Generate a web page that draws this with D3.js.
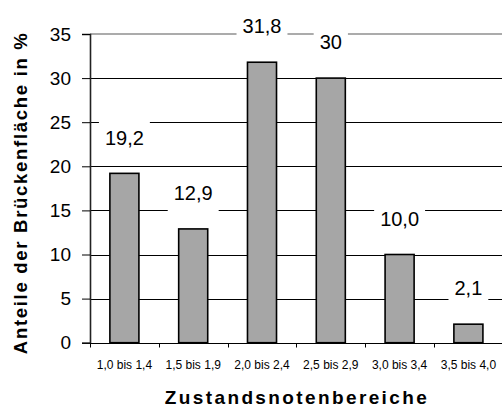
<!DOCTYPE html>
<html>
<head>
<meta charset="utf-8">
<script src="https://cdn.jsdelivr.net/npm/d3@7"></script>
<style>
  html, body { margin: 0; padding: 0; background: #fff; }
  svg { display: block; font-family: "Liberation Sans", Arial, sans-serif; }
</style>
</head>
<body>
<svg id="chart" width="502" height="408"></svg>
<script>
const categories = ["1,0 bis 1,4", "1,5 bis 1,9", "2,0 bis 2,4", "2,5 bis 2,9", "3,0 bis 3,4", "3,5 bis 4,0"];
const values = [19.2, 12.9, 31.8, 30, 10.0, 2.1];
const valueLabels = ["19,2", "12,9", "31,8", "30", "10,0", "2,1"];
const yTicks = [0, 5, 10, 15, 20, 25, 30, 35];
const yTitle = "Anteile der Brückenfläche in %";
const xTitle = "Zustandsnotenbereiche";

(function () {
const svg = d3.select("#chart");
const mLeft = 90, mRight = 502.8, mTop = 34, mBottom = 342.7;

const y = d3.scaleLinear().domain([0, 35]).range([mBottom, mTop]);
const x = d3.scaleBand().domain(categories).range([mLeft, mRight])
  .paddingInner(0.578).paddingOuter(0.289);

const crisp = v => Math.round(v) + 0.5;

// gridlines
svg.append("g").selectAll("line")
  .data(yTicks.filter(t => t > 0))
  .join("line")
  .attr("x1", mLeft).attr("x2", 502)
  .attr("y1", d => d === 35 ? y(d) : crisp(y(d)))
  .attr("y2", d => d === 35 ? y(d) : crisp(y(d)))
  .attr("stroke", d => d === 35 ? "#8f8f8f" : "#000")
  .attr("stroke-width", d => d === 35 ? 1.6 : 1);

// bars
svg.append("g").selectAll("rect")
  .data(values)
  .join("rect")
  .attr("x", (d, i) => x(categories[i]))
  .attr("width", x.bandwidth())
  .attr("y", d => y(d))
  .attr("height", d => y(0) - y(d))
  .attr("fill", "#a6a6a6")
  .attr("stroke", "#000")
  .attr("stroke-width", 1.6);

// value labels with white boxes
const lg = svg.append("g");
values.forEach((v, i) => {
  const cx = x(categories[i]) + x.bandwidth() / 2;
  const cy = y(v) - 36;
  const box = lg.append("rect").attr("fill", "#fff");
  const t = lg.append("text")
    .attr("x", cx).attr("y", cy + 7.2)
    .attr("text-anchor", "middle")
    .attr("font-size", 20)
    .attr("fill", "#000")
    .text(valueLabels[i]);
  const w = t.node().getComputedTextLength();
  box.attr("x", cx - w / 2 - 6).attr("width", w + 12)
    .attr("y", cy - 21).attr("height", 45);
});

// y axis
const yAxis = svg.append("g")
  .attr("transform", `translate(${mLeft},0)`)
  .call(d3.axisLeft(y).tickValues(yTicks).tickSize(8).tickPadding(11).tickFormat(d => d));
yAxis.select(".domain").attr("stroke", "#222").attr("stroke-width", 1.6);
yAxis.selectAll(".tick line").attr("stroke", "#000");
yAxis.selectAll(".tick text").attr("font-size", 19).attr("fill", "#000")
  .attr("font-family", "Liberation Sans, Arial, sans-serif");

// x axis
const xAxis = svg.append("g")
  .attr("transform", `translate(0,${crisp(mBottom) - 0.5})`)
  .call(d3.axisBottom(x).tickSize(0).tickPadding(17));
xAxis.select(".domain").remove();
xAxis.selectAll(".tick text").attr("font-size", 12).attr("fill", "#000")
  .attr("font-family", "Liberation Sans, Arial, sans-serif");
svg.append("line")
  .attr("x1", mLeft).attr("x2", 502)
  .attr("y1", crisp(mBottom)).attr("y2", crisp(mBottom))
  .attr("stroke", "#000").attr("stroke-width", 1.2);
const bounds = categories.map(c => x(c) + x.bandwidth() / 2 - x.step() / 2).concat([mRight]);
svg.append("g").selectAll("line")
  .data(bounds)
  .join("line")
  .attr("x1", d => crisp(d)).attr("x2", d => crisp(d))
  .attr("y1", crisp(mBottom)).attr("y2", crisp(mBottom) + 4)
  .attr("stroke", "#000");

// titles
svg.append("text")
  .attr("transform", `translate(27.3,193.7) rotate(-90)`)
  .attr("text-anchor", "middle")
  .attr("font-size", 18.5).attr("font-weight", "bold")
  .attr("textLength", 321).attr("lengthAdjust", "spacing")
  .text(yTitle);
svg.append("text")
  .attr("x", 295.8).attr("y", 403.5)
  .attr("text-anchor", "middle")
  .attr("font-size", 19).attr("font-weight", "bold")
  .attr("textLength", 262).attr("lengthAdjust", "spacing")
  .text(xTitle);
})();
</script>
</body>
</html>
